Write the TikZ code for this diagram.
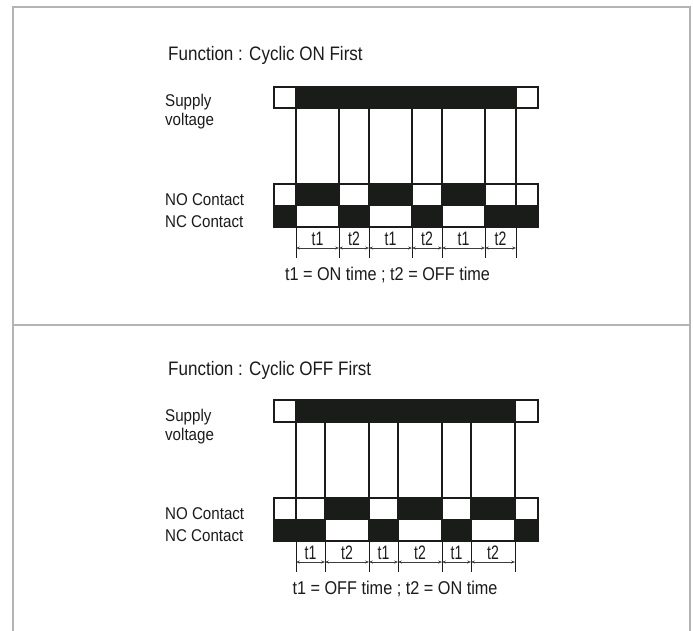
\documentclass[tikz,border=0pt]{standalone}
\usepackage{fontspec}
\setmainfont{Liberation Sans}
\usetikzlibrary{arrows.meta}
\definecolor{ink}{HTML}{1A1C1A}
\definecolor{framegray}{HTML}{B4B4B4}
\begin{document}
\begin{tikzpicture}[x=1pt,y=-1pt,
  frameline/.style={draw=framegray,line width=2pt},
  wire/.style={draw=ink,line width=1.1pt},
  cellw/.style={draw=ink,fill=white,line width=1.1pt},
  cellb/.style={draw=ink,fill=ink,line width=1.1pt},
  extline/.style={draw=ink,line width=0.9pt},
  dimline/.style={draw=ink!85,line width=0.8pt,{Stealth[length=3.8pt,width=3pt]}-{Stealth[length=3.8pt,width=3pt]}},
  titletext/.style={font=\fontsize{19.5}{22}\selectfont,xscale=0.873,anchor=base west,inner sep=0pt,text=ink},
  lbl/.style={font=\fontsize{17}{20}\selectfont,xscale=0.89,anchor=base west,inner sep=0pt,text=ink},
  tlbl/.style={font=\fontsize{19.5}{22}\selectfont,xscale=0.72,anchor=base,inner sep=0pt,text=ink},
  formula/.style={font=\fontsize{18.5}{21}\selectfont,xscale=0.878,anchor=base,inner sep=0pt,text=ink}]
\useasboundingbox (0,0) rectangle (693,631);
\fill[white] (0,0) rectangle (693,631);
% frame
\draw[frameline] (13,631) -- (13,7) -- (690,7) -- (690,631);
\draw[frameline] (13,325) -- (690,325);

% ================= Diagram 1 : Cyclic ON First =================
\node[titletext] (title1) at (168,61) {Function : Cyclic ON First};
\node[lbl] (sup1) at (165,107) {Supply};
\node[lbl] (volt1) at (165,126) {voltage};
\node[lbl] (no1) at (165,205) {NO Contact};
\node[lbl] (nc1) at (165,227) {NC Contact};
% supply bar
\path[cellw] (274,87) rectangle (296,108);
\path[cellb] (296,87) rectangle (516,108);
\path[cellw] (516,87) rectangle (538,108);
\foreach \x in {296,339,369,412,442,485,516}
  \draw[wire] (\x,108) -- (\x,184);
% NO row
\foreach \a/\b/\s in {274/296/cellw,296/339/cellb,339/369/cellw,369/412/cellb,412/442/cellw,442/485/cellb,485/516/cellw,516/538/cellw}
  \path[style=\s] (\a,184) rectangle (\b,205.5);
% NC row
\foreach \a/\b/\s in {274/296/cellb,296/339/cellw,339/369/cellb,369/412/cellw,412/442/cellb,442/485/cellw,485/538/cellb}
  \path[style=\s] (\a,205.5) rectangle (\b,227);
% extension lines
\foreach \x in {296,339,369,412,442,485,516}
  \draw[extline] (\x,227) -- (\x,258);
% dimension arrows
\foreach \a/\b/\t in {296/339/t1,339/369/t2,369/412/t1,412/442/t2,442/485/t1,485/516/t2}{
  \coordinate (da\a) at (\a,248);
  \coordinate (db\a) at (\b,248);
  \draw[dimline] (da\a) -- (db\a);
  \node[tlbl] (lab\a) at ({(\a+\b)/2},245) {\t};
}
\node[formula] (form1) at (387.5,280) {t1 = ON time ; t2 = OFF time};

% ================= Diagram 2 : Cyclic OFF First =================
\begin{scope}[yshift=-314pt]
\node[titletext] (title2) at (168,61) {Function : Cyclic OFF First};
\node[lbl] (sup2) at (165,107) {Supply};
\node[lbl] (volt2) at (165,126) {voltage};
\node[lbl] (no2) at (165,205) {NO Contact};
\node[lbl] (nc2) at (165,227) {NC Contact};
\path[cellw] (274,86) rectangle (296,108);
\path[cellb] (296,86) rectangle (515,108);
\path[cellw] (515,86) rectangle (538,108);
\foreach \x in {296,325,369,398,442,471,515}
  \draw[wire] (\x,108) -- (\x,184);
\foreach \a/\b/\s in {274/296/cellw,296/325/cellw,325/369/cellb,369/398/cellw,398/442/cellb,442/471/cellw,471/515/cellb,515/538/cellw}
  \path[style=\s] (\a,184) rectangle (\b,205.5);
\foreach \a/\b/\s in {274/325/cellb,325/369/cellw,369/398/cellb,398/442/cellw,442/471/cellb,471/515/cellw,515/538/cellb}
  \path[style=\s] (\a,205.5) rectangle (\b,227);
\foreach \x in {296,325,369,398,442,471,515}
  \draw[extline] (\x,227) -- (\x,258);
\foreach \a/\b/\t in {296/325/t1,325/369/t2,369/398/t1,398/442/t2,442/471/t1,471/515/t2}{
  \coordinate (ea\a) at (\a,248);
  \coordinate (eb\a) at (\b,248);
  \draw[dimline] (ea\a) -- (eb\a);
  \node[tlbl] (mab\a) at ({(\a+\b)/2},245) {\t};
}
\node[formula] (form2) at (395,280) {t1 = OFF time ; t2 = ON time};
\end{scope}
\end{tikzpicture}
\end{document}
